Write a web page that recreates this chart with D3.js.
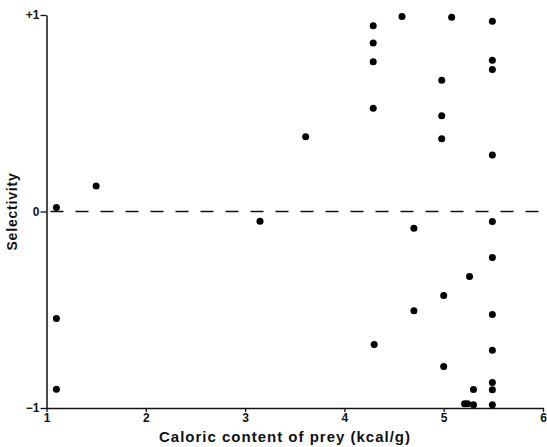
<!DOCTYPE html>
<html>
<head>
<meta charset="utf-8">
<script src="https://cdn.jsdelivr.net/npm/d3@7"></script>
<style>
  body { margin: 0; background: #fff; }
  text { font-family: "Liberation Sans", Arial, sans-serif; font-weight: bold; fill: #111; }
</style>
</head>
<body>
<div id="canvas"></div>
<script>
// caloric content (kcal/g) and selectivity for each prey point
const calories = [1.10, 1.50, 1.10, 1.10, 3.15, 3.61, 4.29, 4.29, 4.29, 4.29, 4.30, 4.58,
  4.70, 4.70, 4.98, 4.98, 4.98, 5.00, 5.00, 5.08, 5.26, 5.30, 5.21, 5.24, 5.30,
  5.49, 5.49, 5.49, 5.49, 5.49, 5.49, 5.49, 5.49, 5.49, 5.49, 5.49];
const selectivity = [0.02, 0.13, -0.545, -0.905, -0.05, 0.38, 0.945, 0.857, 0.762, 0.526, -0.677, 0.992,
  -0.085, -0.505, 0.668, 0.487, 0.37, -0.427, -0.789, 0.989, -0.331, -0.906, -0.979, -0.979, -0.984,
  0.968, 0.77, 0.723, 0.287, -0.051, -0.234, -0.524, -0.706, -0.87, -0.907, -0.984];
const xTicks = [1, 2, 3, 4, 5, 6];
const yTicks = [-1, 0, 1];
const yTickLabels = ["\u22121", "0", "+1"];

const width = 547;
const height = 447;
const margin = { top: 15, left: 46.5, bottom: 39, right: 4 };
const iwidth = width - margin.left - margin.right;
const iheight = height - margin.top - margin.bottom;

const svg = d3.select("#canvas").append("svg")
  .attr("width", width)
  .attr("height", height);

const g = svg.append("g").attr("transform", `translate(${margin.left},${margin.top})`);

const x = d3.scaleLinear().domain([1, 6]).range([0, iwidth]);
const y = d3.scaleLinear().domain([-1, 1]).range([iheight, 0]);

// zero line
g.append("line")
  .attr("x1", 0).attr("x2", iwidth)
  .attr("y1", y(0)).attr("y2", y(0))
  .attr("stroke", "#111")
  .attr("stroke-width", 1.6)
  .attr("stroke-dasharray", "13,12")
  .attr("stroke-dashoffset", -4);

const xAxis = g.append("g")
  .attr("transform", `translate(0,${iheight})`)
  .call(d3.axisBottom(x).tickValues(xTicks).tickFormat(d3.format("d")).tickSize(4).tickSizeOuter(0).tickPadding(1));

const yAxis = g.append("g")
  .call(d3.axisLeft(y).tickValues(yTicks).tickFormat((d, i) => yTickLabels[i]).tickSize(6).tickSizeOuter(0).tickPadding(1));

[xAxis, yAxis].forEach(a => {
  a.select(".domain").attr("stroke", "#111").attr("stroke-width", 1.5);
  a.selectAll(".tick line").attr("stroke", "#111").attr("stroke-width", 1.3);
  a.selectAll(".tick text").style("font-size", "12px").style("font-family", "Liberation Sans, Arial, sans-serif").style("font-weight", "bold").attr("fill", "#111");
});

g.selectAll("circle.dot")
  .data(calories.map((c, i) => ({ c, s: selectivity[i] })))
  .enter().append("circle")
  .attr("class", "dot")
  .attr("cx", d => x(d.c))
  .attr("cy", d => y(d.s))
  .attr("r", 3.5)
  .attr("fill", "#000");

svg.append("text")
  .attr("x", 285)
  .attr("y", 442)
  .attr("text-anchor", "middle")
  .style("font-size", "15px")
  .style("letter-spacing", "1px")
  .text("Caloric content of prey (kcal/g)");

svg.append("text")
  .attr("transform", `translate(17,${margin.top + y(0)}) rotate(-90)`)
  .attr("text-anchor", "middle")
  .style("font-size", "14px")
  .style("letter-spacing", "0.8px")
  .text("Selectivity");
</script>
</body>
</html>
